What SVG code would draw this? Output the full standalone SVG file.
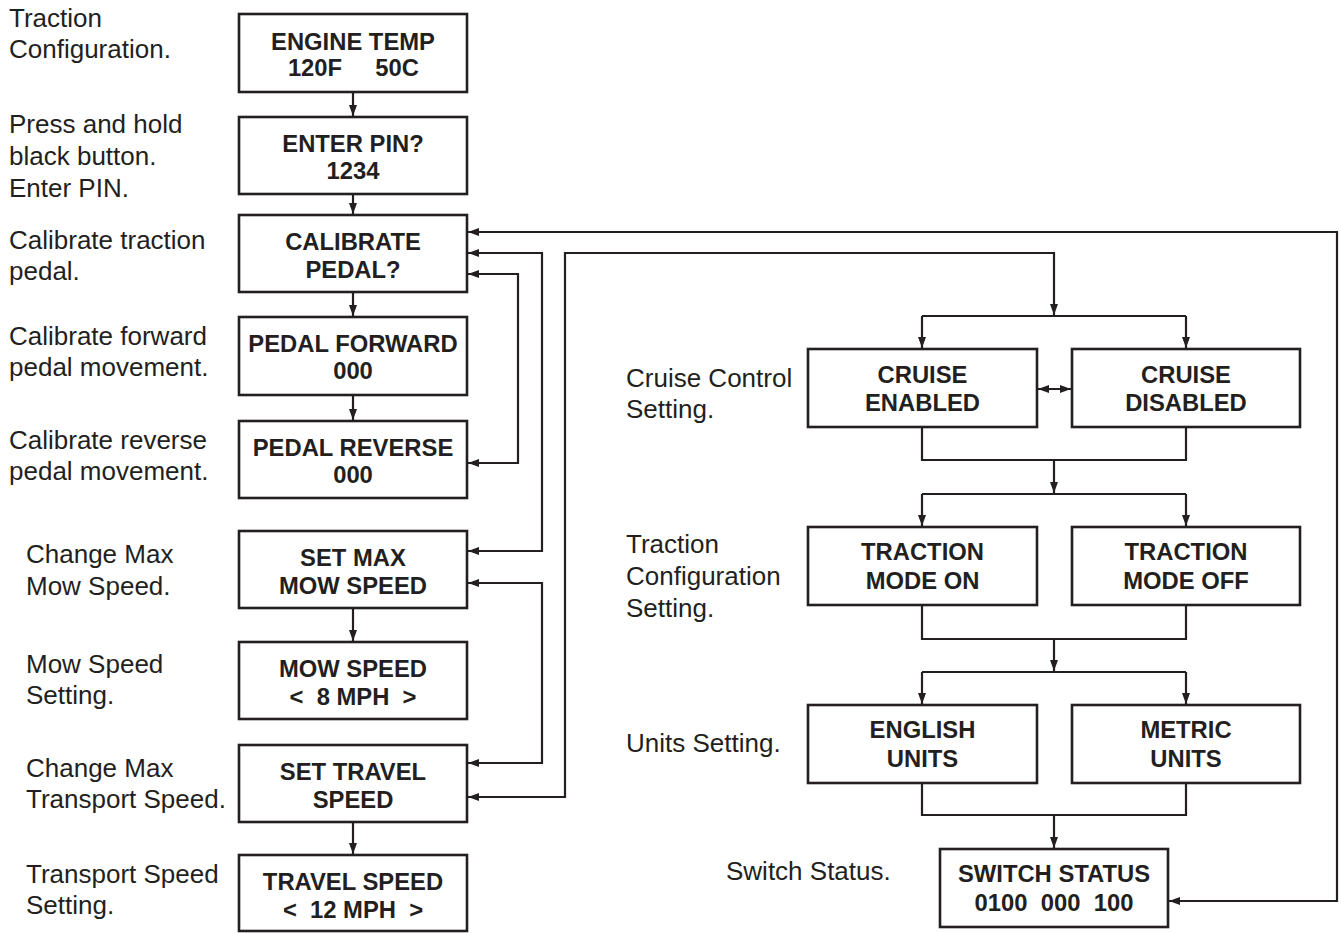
<svg xmlns="http://www.w3.org/2000/svg" width="1341" height="933" viewBox="0 0 1341 933">
<style>
.box{fill:#fff;stroke:#231f20;stroke-width:2.6}
.bt{font-family:"Liberation Sans",Arial,sans-serif;font-weight:bold;font-size:23.8px;fill:#231f20;text-anchor:middle}
.lb{font-family:"Liberation Sans",Arial,sans-serif;font-size:26px;fill:#231f20}
.cn{fill:none;stroke:#231f20;stroke-width:2.2}
.ar{marker-end:url(#ah)}
.ar2{marker-start:url(#ah);marker-end:url(#ah)}
</style>
<defs>
<marker id="ah" markerUnits="userSpaceOnUse" markerWidth="12" markerHeight="9" refX="11" refY="4.5" orient="auto-start-reverse"><path d="M0,0.5 L11,4.5 L0,8.5 z" fill="#231f20"/></marker>
</defs>
<rect width="1341" height="933" fill="#fff"/>

<g id="labels">
<text class="lb" x="9" y="27">Traction</text>
<text class="lb" x="9" y="58">Configuration.</text>
<text class="lb" x="9" y="133">Press and hold</text>
<text class="lb" x="9" y="165">black button.</text>
<text class="lb" x="9" y="197">Enter PIN.</text>
<text class="lb" x="9" y="249">Calibrate traction</text>
<text class="lb" x="9" y="280">pedal.</text>
<text class="lb" x="9" y="345">Calibrate forward</text>
<text class="lb" x="9" y="376">pedal movement.</text>
<text class="lb" x="9" y="449">Calibrate reverse</text>
<text class="lb" x="9" y="480">pedal movement.</text>
<text class="lb" x="26" y="563">Change Max</text>
<text class="lb" x="26" y="595">Mow Speed.</text>
<text class="lb" x="26" y="673">Mow Speed</text>
<text class="lb" x="26" y="704">Setting.</text>
<text class="lb" x="26" y="777">Change Max</text>
<text class="lb" x="26" y="808">Transport Speed.</text>
<text class="lb" x="26" y="883">Transport Speed</text>
<text class="lb" x="26" y="914">Setting.</text>
<text class="lb" x="626" y="387">Cruise Control</text>
<text class="lb" x="626" y="418">Setting.</text>
<text class="lb" x="626" y="553">Traction</text>
<text class="lb" x="626" y="585">Configuration</text>
<text class="lb" x="626" y="617">Setting.</text>
<text class="lb" x="626" y="752">Units Setting.</text>
<text class="lb" x="726" y="880">Switch Status.</text>
</g>

<g id="connectors">
<line class="cn ar" x1="353" y1="92" x2="353" y2="116"/>
<line class="cn ar" x1="353" y1="194" x2="353" y2="214"/>
<line class="cn ar" x1="353" y1="292" x2="353" y2="316"/>
<line class="cn ar" x1="353" y1="395" x2="353" y2="420"/>
<line class="cn ar" x1="353" y1="608" x2="353" y2="641"/>
<line class="cn ar" x1="353" y1="822" x2="353" y2="854"/>
<path class="cn ar2" d="M1169,901 H1337 V232 H468"/>
<path class="cn ar2" d="M468,253 H542 V551 H468"/>
<path class="cn ar2" d="M468,274 H518 V463 H468"/>
<path class="cn ar2" d="M468,583 H542 V763 H468"/>
<path class="cn ar2" d="M468,797 H565 V253 H1054 V315"/>
<path class="cn" d="M922,316 H1186"/>
<line class="cn ar" x1="922" y1="316" x2="922" y2="348"/>
<line class="cn ar" x1="1186" y1="316" x2="1186" y2="348"/>
<line class="cn ar2" x1="1038" y1="389" x2="1071" y2="389"/>
<path class="cn" d="M922,427 V460 H1186 V427"/>
<line class="cn ar" x1="1054" y1="460" x2="1054" y2="493"/>
<path class="cn" d="M922,494 H1186"/>
<line class="cn ar" x1="922" y1="494" x2="922" y2="526"/>
<line class="cn ar" x1="1186" y1="494" x2="1186" y2="526"/>
<path class="cn" d="M922,605 V639 H1186 V605"/>
<line class="cn ar" x1="1054" y1="639" x2="1054" y2="671"/>
<path class="cn" d="M922,672 H1186"/>
<line class="cn ar" x1="922" y1="672" x2="922" y2="704"/>
<line class="cn ar" x1="1186" y1="672" x2="1186" y2="704"/>
<path class="cn" d="M922,783 V815 H1186 V783"/>
<line class="cn ar" x1="1054" y1="815" x2="1054" y2="848"/>
</g>

<g id="n-engine-temp"><rect class="box" x="239" y="14" width="228" height="78"/>
<text class="bt" x="353" y="50">ENGINE TEMP</text>
<text class="bt" x="315" y="76">120F</text><text class="bt" x="397" y="76">50C</text></g>
<g id="n-enter-pin"><rect class="box" x="239" y="117" width="228" height="77"/>
<text class="bt" x="353" y="152">ENTER PIN?</text><text class="bt" x="353" y="179">1234</text></g>
<g id="n-calibrate"><rect class="box" x="239" y="215" width="228" height="77"/>
<text class="bt" x="353" y="250">CALIBRATE</text><text class="bt" x="353" y="278">PEDAL?</text></g>
<g id="n-pedal-forward"><rect class="box" x="239" y="317" width="228" height="78"/>
<text class="bt" x="353" y="352">PEDAL FORWARD</text><text class="bt" x="353" y="379">000</text></g>
<g id="n-pedal-reverse"><rect class="box" x="239" y="421" width="228" height="77"/>
<text class="bt" x="353" y="456">PEDAL REVERSE</text><text class="bt" x="353" y="483">000</text></g>
<g id="n-set-max"><rect class="box" x="239" y="531" width="228" height="77"/>
<text class="bt" x="353" y="566">SET MAX</text><text class="bt" x="353" y="594">MOW SPEED</text></g>
<g id="n-mow-speed"><rect class="box" x="239" y="642" width="228" height="77"/>
<text class="bt" x="353" y="677">MOW SPEED</text><text class="bt" x="353" y="705" xml:space="preserve">&lt;  8 MPH  &gt;</text></g>
<g id="n-set-travel"><rect class="box" x="239" y="745" width="228" height="77"/>
<text class="bt" x="353" y="780">SET TRAVEL</text><text class="bt" x="353" y="808">SPEED</text></g>
<g id="n-travel-speed"><rect class="box" x="239" y="855" width="228" height="76"/>
<text class="bt" x="353" y="890">TRAVEL SPEED</text><text class="bt" x="353" y="918" xml:space="preserve">&lt;  12 MPH  &gt;</text></g>

<g id="n-cruise-enabled"><rect class="box" x="808" y="349" width="229" height="78"/>
<text class="bt" x="922.5" y="383">CRUISE</text><text class="bt" x="922.5" y="411">ENABLED</text></g>
<g id="n-cruise-disabled"><rect class="box" x="1072" y="349" width="228" height="78"/>
<text class="bt" x="1186" y="383">CRUISE</text><text class="bt" x="1186" y="411">DISABLED</text></g>
<g id="n-traction-on"><rect class="box" x="808" y="527" width="229" height="78"/>
<text class="bt" x="922.5" y="560">TRACTION</text><text class="bt" x="922.5" y="589">MODE ON</text></g>
<g id="n-traction-off"><rect class="box" x="1072" y="527" width="228" height="78"/>
<text class="bt" x="1186" y="560">TRACTION</text><text class="bt" x="1186" y="589">MODE OFF</text></g>
<g id="n-english"><rect class="box" x="808" y="705" width="229" height="78"/>
<text class="bt" x="922.5" y="738">ENGLISH</text><text class="bt" x="922.5" y="767">UNITS</text></g>
<g id="n-metric"><rect class="box" x="1072" y="705" width="228" height="78"/>
<text class="bt" x="1186" y="738">METRIC</text><text class="bt" x="1186" y="767">UNITS</text></g>
<g id="n-switch-status"><rect class="box" x="940" y="849" width="228" height="78"/>
<text class="bt" x="1054" y="882">SWITCH STATUS</text><text class="bt" x="1054" y="911" xml:space="preserve">0100  000  100</text></g>
</svg>
